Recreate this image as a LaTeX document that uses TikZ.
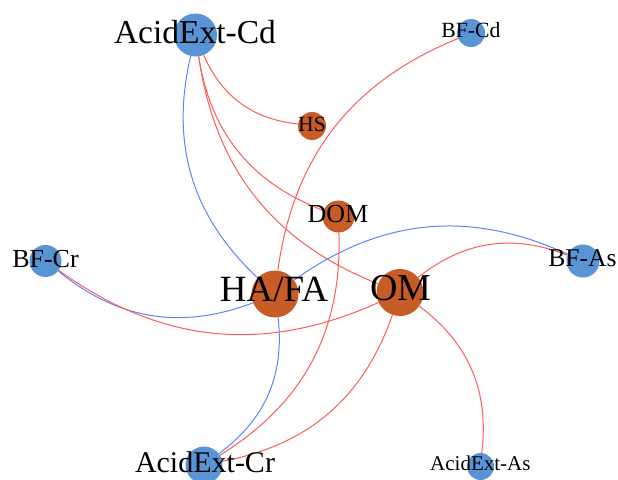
\documentclass[tikz,border=0pt]{standalone}
\usepackage{fontspec}
\setmainfont{Liberation Serif}
\definecolor{nblue}{RGB}{88,148,214}
\definecolor{norange}{RGB}{200,92,38}
\definecolor{ered}{RGB}{255,90,90}
\definecolor{eblue}{RGB}{95,130,255}
\tikzset{
  bnode/.style={circle, fill=nblue, inner sep=0pt, minimum size=#1},
  onode/.style={circle, fill=norange, inner sep=0pt, minimum size=#1},
  lbl/.style={anchor=base, inner sep=0pt, text=black},
  redge/.style={draw=ered, line width=1pt, bend right=30},
  bedge/.style={draw=eblue, line width=1pt, bend right=30}
}
\begin{document}
\begin{tikzpicture}[x=1pt,y=-1pt]
\useasboundingbox (0,0) rectangle (618,479);
% circles
\node[bnode=43] (acd) at (195.5,35) {};
\node[bnode=28] (bfcd) at (471,33) {};
\node[onode=28] (hs) at (312,126) {};
\node[onode=32] (dom) at (338.5,216.5) {};
\node[bnode=32] (bfcr) at (45.5,261) {};
\node[onode=47] (hafa) at (275,294) {};
\node[onode=47] (om) at (400,292.5) {};
\node[bnode=33] (bfas) at (583,261) {};
\node[bnode=37] (acr) at (204,465) {};
\node[bnode=27] (aas) at (480.5,466.5) {};
% edges
\draw[redge] (acd) to (hs);
\draw[redge] (acd) to (dom);
\draw[redge] (acd) to (om);
\draw[bedge] (acd) to (hafa);
\draw[redge] (bfcd) to (hafa);
\draw[bedge] (bfcr) to (hafa);
\draw[redge] (bfcr) to (om);
\draw[bedge] (bfas) to (hafa);
\draw[redge] (bfas) to (om);
\draw[bedge] (acr) to (hafa);
\draw[redge] (acr) to (dom);
\draw[redge] (acr) to (om);
\draw[redge] (aas) to (om);
% labels
\node[lbl, font=\fontsize{33.5}{33.5}\selectfont] (lacd) at (195,43) {AcidExt-Cd};
\node[lbl, font=\fontsize{21.7}{21.7}\selectfont] (lbfcd) at (471,37.7) {BF-Cd};
\node[lbl, font=\fontsize{21.7}{21.7}\selectfont] (lhs) at (312,131) {HS};
\node[lbl, font=\fontsize{26}{26}\selectfont] (ldom) at (338,222.7) {DOM};
\node[lbl, font=\fontsize{26}{26}\selectfont] (lbfcr) at (45.5,267.3) {BF-Cr};
\node[lbl, font=\fontsize{37}{37}\selectfont] (lhafa) at (274,301.7) {HA/FA};
\node[lbl, font=\fontsize{38}{38}\selectfont] (lom) at (400.8,300) {OM};
\node[lbl, font=\fontsize{25.6}{25.6}\selectfont] (lbfas) at (582.5,266.7) {BF-As};
\node[lbl, font=\fontsize{30}{30}\selectfont] (lacr) at (205,472.7) {AcidExt-Cr};
\node[lbl, font=\fontsize{21}{21}\selectfont] (laas) at (480.4,470.7) {AcidExt-As};
\end{tikzpicture}
\end{document}
